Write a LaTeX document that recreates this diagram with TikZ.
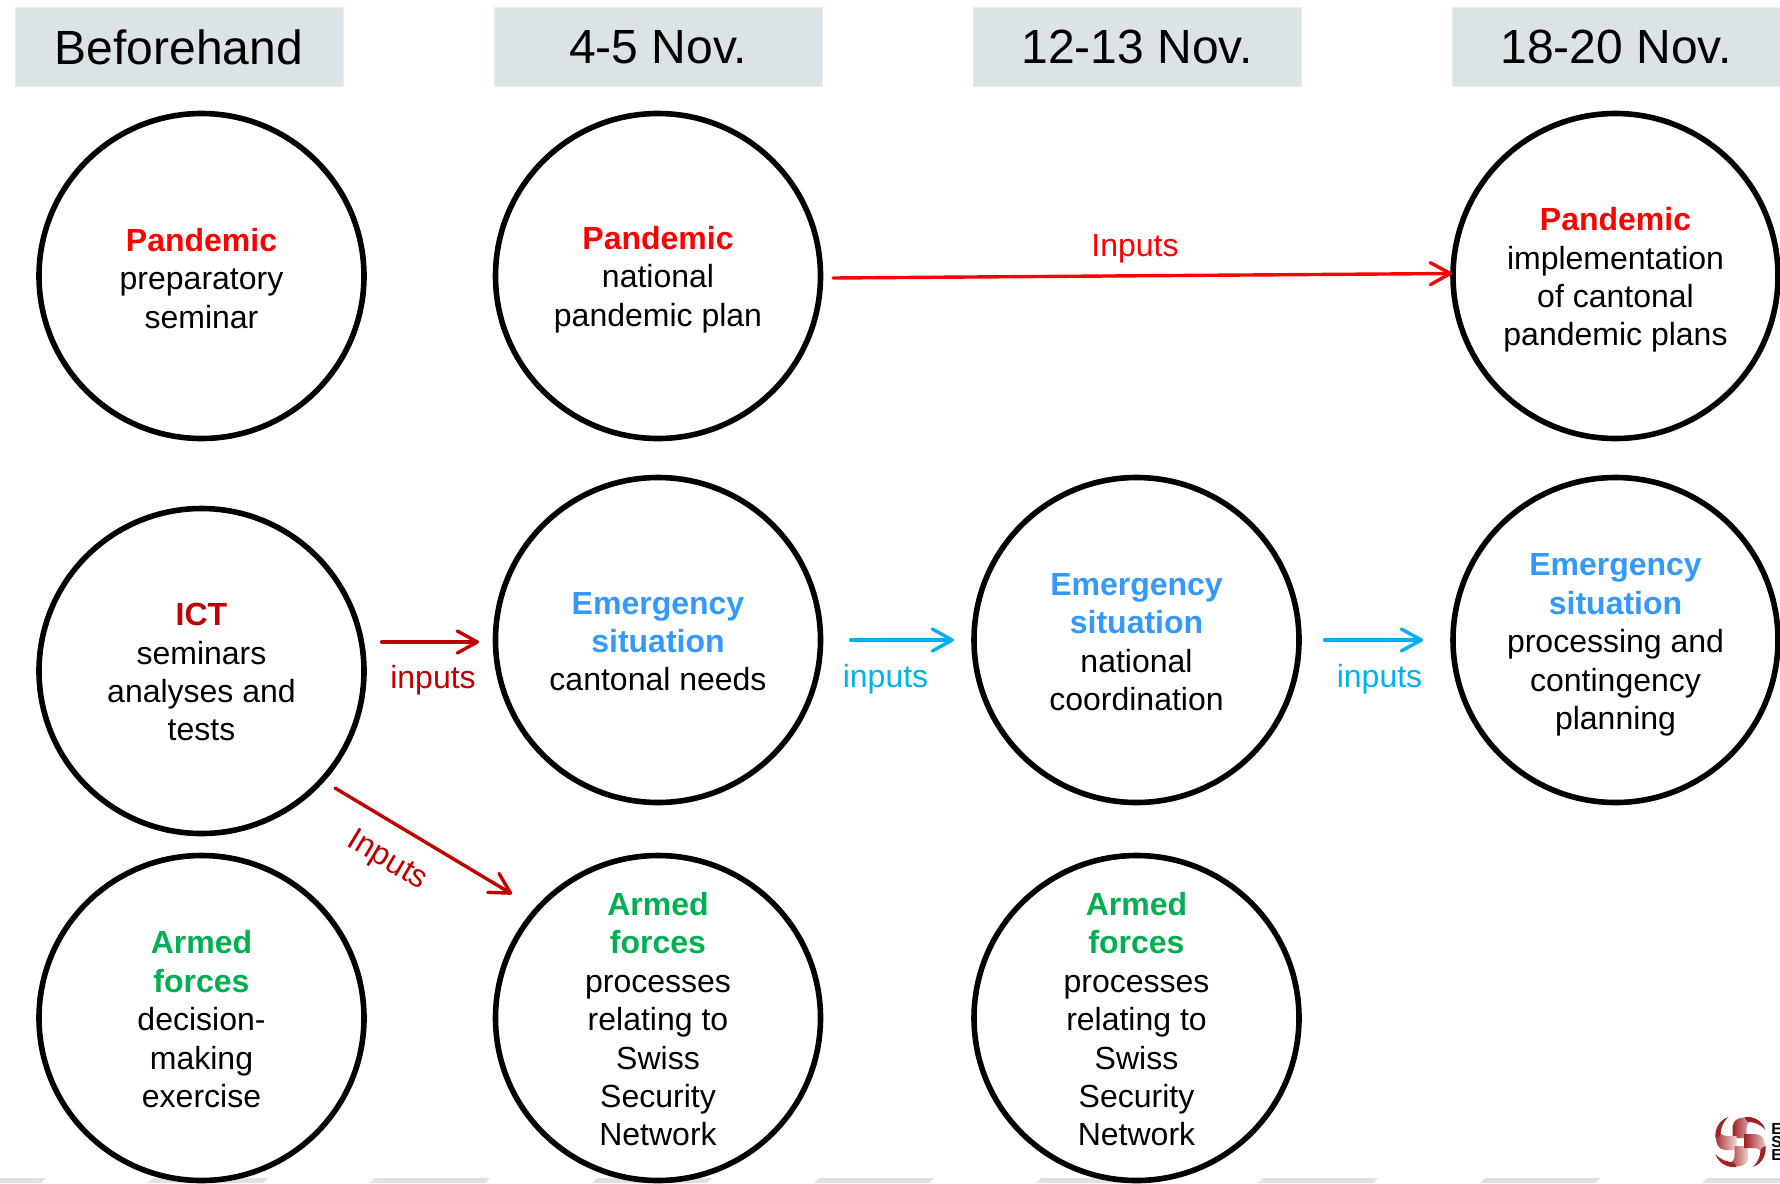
\documentclass[tikz,border=0pt]{standalone}
\usepackage{fontspec}
\setmainfont{Liberation Sans}
\usetikzlibrary{arrows.meta}
\definecolor{hdr}{HTML}{DBE3E7}
\definecolor{hdredge}{HTML}{E2EEF0}
\definecolor{pan}{HTML}{FF0000}
\definecolor{ict}{HTML}{C00000}
\definecolor{eme}{HTML}{3399FF}
\definecolor{arm}{HTML}{00B050}
\definecolor{inp}{HTML}{00B0F0}
\definecolor{logored}{HTML}{9E2226}
\definecolor{logopale}{HTML}{F3D6D2}
\newcommand{\hp}[1]{\textcolor{pan}{\textbf{#1}}}
\newcommand{\hi}[1]{\textcolor{ict}{\textbf{#1}}}
\newcommand{\he}[1]{\textcolor{eme}{\textbf{#1}}}
\newcommand{\ha}[1]{\textcolor{arm}{\textbf{#1}}}
\tikzset{
  x=0.5pt,y=-0.5pt,
  hdrbox/.style={fill=hdr,draw=hdredge,line width=0.5pt,minimum width=164pt,minimum height=39.5pt,inner sep=0pt,font=\fontsize{24}{28}\selectfont},
  disc/.style={circle,draw=black,line width=2.8pt,minimum size=162.5pt,inner sep=0pt},
  body/.style={inner sep=0pt,align=center,font=\fontsize{16}{19.2}\selectfont},
  lab/.style={inner sep=0pt,font=\fontsize{16}{19.2}\selectfont},
  arr/.style={-{Straight Barb[length=10pt,width=11pt,round,line width=1.7pt]},line cap=round},
  stripe/.style={fill=hdr,draw=none},
  logotext/.style={inner sep=0pt,anchor=west,font=\fontsize{8}{8}\bfseries\selectfont},
}
\begin{document}
\begin{tikzpicture}
\useasboundingbox (0,0) rectangle (1780,1183);
% bottom band
\foreach \s in {-72,150,372,594,816,1038,1260,1482,1704}
  \fill[stripe] (\s+3,1178) -- (\s+118,1178) -- (\s+113,1183) -- (\s-2,1183) -- cycle;
% headers
\node[hdrbox] (h1) at (179,47) {Beforehand};
\node[hdrbox] (h2) at (658,47) {4-5 Nov.};
\node[hdrbox] (h3) at (1137,47) {12-13 Nov.};
\node[hdrbox] (h4) at (1616,47) {18-20 Nov.};
% circles
\node[disc] (a1) at (201.5,276) {};
\node[disc] (a2) at (201.5,671) {};
\node[disc] (a3) at (201.5,1018) {};
\node[disc] (b1) at (658,276) {};
\node[disc] (b2) at (658,640) {};
\node[disc] (b3) at (658,1018) {};
\node[disc] (c2) at (1136.5,640) {};
\node[disc] (c3) at (1136.5,1018) {};
\node[disc] (d1) at (1615.5,276) {};
\node[disc] (d2) at (1615.5,640) {};
% circle texts
\node[body,yshift=-1.1pt] (ta1) at (a1) {\hp{Pandemic}\\preparatory\\seminar};
\node[body,yshift=-0.6pt] (ta2) at (a2) {\hi{ICT}\\seminars\\analyses and\\tests};
\node[body,yshift=-0.6pt] (ta3) at (a3) {\ha{Armed}\\\ha{forces}\\decision-\\making\\exercise};
\node[body,yshift=-1.7pt] (tb1) at (b1) {\hp{Pandemic}\\national\\pandemic plan};
\node[body,yshift=-0.85pt] (tb2) at (b2) {\he{Emergency}\\\he{situation}\\cantonal needs};
\node[body,yshift=-0.6pt] (tb3) at (b3) {\ha{Armed}\\\ha{forces}\\processes\\relating to\\Swiss\\Security\\Network};
\node[body,yshift=-1.1pt] (tc2) at (c2) {\he{Emergency}\\\he{situation}\\national\\coordination};
\node[body,yshift=-0.6pt] (tc3) at (c3) {\ha{Armed}\\\ha{forces}\\processes\\relating to\\Swiss\\Security\\Network};
\node[body,yshift=-2pt] (td1) at (d1) {\hp{Pandemic}\\implementation\\of cantonal\\pandemic plans};
\node[body,yshift=-2.5pt] (td2) at (d2) {\he{Emergency}\\\he{situation}\\processing and\\contingency\\planning};
% connector ends
\coordinate (p1s) at (833,278); \coordinate (p1e) at (1452,273.5);
\coordinate (i1s) at (382,642); \coordinate (i1e) at (479,642);
\coordinate (i2s) at (335,788); \coordinate (i2e) at (512,894);
\coordinate (e1s) at (851,640); \coordinate (e1e) at (954,640);
\coordinate (e2s) at (1325,640); \coordinate (e2e) at (1423,640);
% connectors
\draw[arr,pan,line width=1.7pt] (p1s) -- (p1e);
\draw[arr,ict,line width=2.2pt] (i1s) -- (i1e);
\draw[arr,ict,line width=1.7pt] (i2s) -- (i2e);
\draw[arr,inp,line width=2pt] (e1s) -- (e1e);
\draw[arr,inp,line width=2pt] (e2s) -- (e2e);
% labels
\node[lab,text=pan] (l1) at (1135,249) {Inputs};
\node[lab,text=ict] (l2) at (433,680) {inputs};
\node[lab,text=ict,rotate=-31] (l3) at (387,861) {Inputs};
\node[lab,text=inp] (l4) at (885.5,679) {inputs};
\node[lab,text=inp] (l5) at (1379.5,679) {inputs};
% logo
\begin{scope}[shift={(1740.5,1142)}]
  \foreach \r in {0,90,180,270}
    \shade[rotate=\r,left color=logored,right color=logopale]
      (-8,-4) -- (-8,-14) .. controls (-8,-24) and (2,-27) .. (14,-22)
      .. controls (7,-21) and (6,-17) .. (6,-12) -- (6,-4) -- cycle;
  \foreach \r in {0,90,180,270}
    \fill[logored,rotate=\r] (4,-25) .. controls (12,-26) and (22,-22) .. (25,-12)
      .. controls (20,-18) and (13,-20) .. (8,-20) .. controls (6,-20) and (5,-23) .. (4,-25) -- cycle;
\end{scope}
\begin{scope}
  \clip (0,0) rectangle (1780,1183);
  \node[logotext] (e1) at (1771,1129) {E};
  \node[logotext] (e2) at (1771,1142) {S};
  \node[logotext] (e3) at (1771,1155) {E};
\end{scope}
\end{tikzpicture}
\end{document}
